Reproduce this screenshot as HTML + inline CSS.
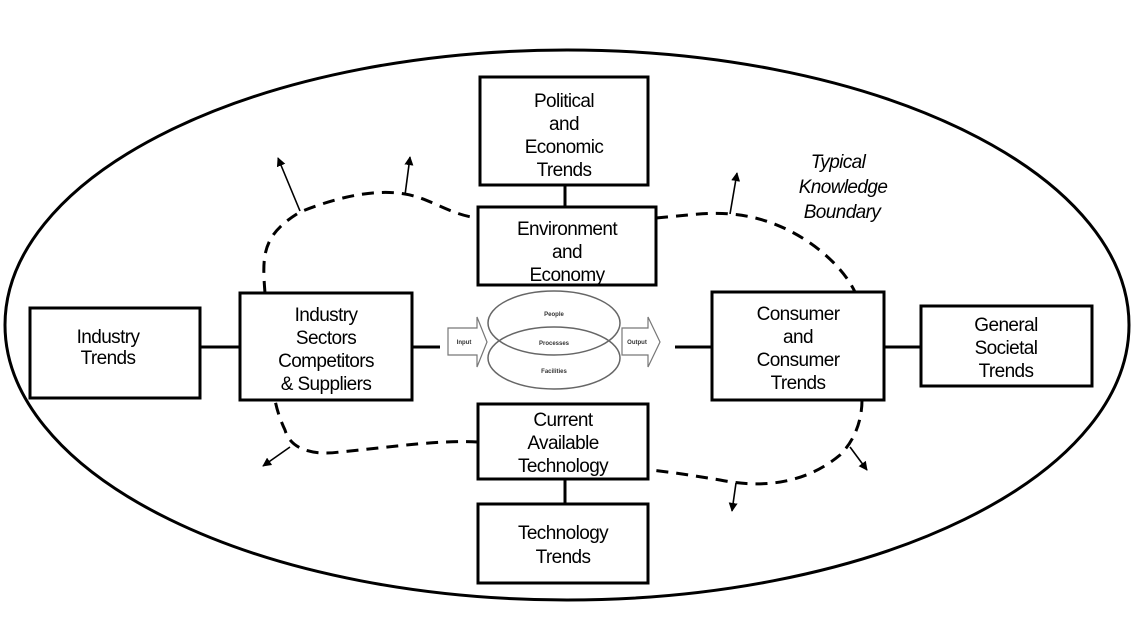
<!DOCTYPE html>
<html><head><meta charset="utf-8"><style>
body{margin:0;background:#fff}
svg text{font-family:"Liberation Sans",Arial,sans-serif}
</style></head><body>
<svg width="1134" height="630" viewBox="0 0 1134 630" xmlns="http://www.w3.org/2000/svg">
<defs><marker id="a" viewBox="0 0 10 10" refX="9" refY="5" markerWidth="9" markerHeight="9" orient="auto" markerUnits="userSpaceOnUse"><path d="M0,0L10,5L0,10z" fill="#000"/></marker></defs>
<rect width="1134" height="630" fill="#fff"/>
<ellipse cx="567" cy="325" rx="562" ry="275" fill="none" stroke="#000" stroke-width="3"/>
<g stroke="#000" stroke-width="3" fill="#fff">
<rect x="480" y="77" width="168" height="108"/>
<rect x="478" y="207" width="178" height="78"/>
<rect x="30" y="308" width="170" height="90"/>
<rect x="240" y="293" width="172" height="107"/>
<rect x="712" y="292" width="172" height="108"/>
<rect x="921" y="306" width="171" height="80"/>
<rect x="478" y="404" width="170" height="75"/>
<rect x="478" y="504" width="170" height="79"/>
</g>
<g stroke="#000" stroke-width="3">
<line x1="565" y1="185" x2="565" y2="207"/>
<line x1="200" y1="347" x2="240" y2="347"/>
<line x1="412" y1="347" x2="440" y2="347"/>
<line x1="675" y1="347" x2="712" y2="347"/>
<line x1="884" y1="347" x2="921" y2="347"/>
<line x1="565" y1="479" x2="565" y2="504"/>
</g>
<g fill="none" stroke="#000" stroke-width="3" stroke-dasharray="12,8">
<path d="M265,293 C262,255 262,235 300,212 C330,200 370,188 405,194 C430,198 450,215 478,218"/>
<path d="M656,218 C690,215 710,212 730,214 C790,218 840,260 855,292"/>
<path d="M862,400 C862,420 855,440 840,455 C810,480 770,490 720,480 C690,475 670,472 650,470"/>
<path d="M478,442 C440,440 400,446 340,452 C310,456 290,448 285,430 C278,415 276,405 275,400"/>
</g>
<g stroke="#000" stroke-width="1.6" marker-end="url(#a)">
<line x1="300" y1="211" x2="278" y2="158"/>
<line x1="405" y1="195" x2="410" y2="157"/>
<line x1="730" y1="214" x2="737" y2="173"/>
<line x1="290" y1="447" x2="263" y2="466"/>
<line x1="736" y1="483" x2="732" y2="511"/>
<line x1="850" y1="447" x2="867" y2="470"/>
</g>
<g fill="#fff" stroke="#777" stroke-width="1.2">
<path d="M448,328 L477,328 L477,317 L487,342 L477,367 L477,355 L448,355 Z"/>
<path d="M622,328 L648,328 L648,317 L660,342 L648,367 L648,355 L622,355 Z"/>
</g>
<g fill="none" stroke="#666" stroke-width="1.5">
<ellipse cx="554" cy="323" rx="66" ry="32"/>
<ellipse cx="554" cy="358" rx="66" ry="31"/>
</g>
<g font-size="6" font-weight="bold" fill="#333" text-anchor="middle">
<text x="554" y="316">People</text>
<text x="554" y="345">Processes</text>
<text x="554" y="373">Facilities</text>
<text x="464" y="344">Input</text>
<text x="637" y="344">Output</text>
</g>
<g font-size="19" fill="#000" text-anchor="middle" letter-spacing="-0.6">
<text x="564" y="107">Political</text><text x="564" y="130">and</text><text x="564" y="153">Economic</text><text x="564" y="176">Trends</text>
<text x="567" y="235">Environment</text><text x="567" y="258">and</text><text x="567" y="281">Economy</text>
<text x="108" y="343">Industry</text><text x="108" y="364">Trends</text>
<text x="326" y="321">Industry</text><text x="326" y="344">Sectors</text><text x="326" y="367">Competitors</text><text x="326" y="390">&amp; Suppliers</text>
<text x="798" y="320">Consumer</text><text x="798" y="343">and</text><text x="798" y="366">Consumer</text><text x="798" y="389">Trends</text>
<text x="1006" y="331">General</text><text x="1006" y="354">Societal</text><text x="1006" y="377">Trends</text>
<text x="563" y="426">Current</text><text x="563" y="449">Available</text><text x="563" y="472">Technology</text>
<text x="563" y="539">Technology</text><text x="563" y="563">Trends</text>
<g font-style="italic"><text x="838" y="168">Typical</text><text x="843" y="193">Knowledge</text><text x="842" y="218">Boundary</text></g>
</g>
</svg>
</body></html>
